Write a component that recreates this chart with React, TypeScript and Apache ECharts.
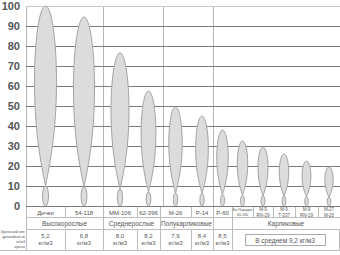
import React, { useEffect, useRef } from "react";
import * as echarts from "echarts";

// ---- data ----
const categories = [
  "Дички", "54-118", "ММ-106", "62-396", "М-26", "Р-14", "Р-60",
  "Бл.Парадиз\n60-160", "М-9\nRN-29", "М-9\nТ-337", "М-9\nRN-19", "М-27\nМ-20",
];
const crownHeights = [100, 94.5, 76.5, 57.5, 49.5, 45, 38, 32.5, 29.5, 26, 22.5, 19.5];
const yieldValues = ["5,2", "6,8", "8,0", "8,2", "7,9", "8,4", "8,5"];
const yieldUnit = "кг/м3";
const groupNames = ["Высокорослые", "Среднерослые", "Полукарликовые", "", "Карликовые"];
const groupSpans = [[0, 2], [2, 4], [4, 6], [6, 7], [7, 12]];
const dwarfAverage = "В среднем 9,2 кг/м3";
const rowTitle = ["Удельный вес", "урожайности", "кг/м3", "кроны"];
const yMin = 0, yMax = 100, yStep = 10;

// ---- layout (pixels) ----
const W = 340, H = 255;
const colEdges = [26, 65, 103, 137, 160, 191, 213, 232, 253, 273, 295, 318, 340];
const plotTop = 6, plotBottom = 206;
const groupLinesX = [26, 103, 163, 213];
const rowY = [207, 217, 229, 250];
const FONT = "'Liberation Sans', Arial, sans-serif";
const LINE = "#bdbdbd";
const TXT = "#555";

const App: React.FC = () => {
  const ref = useRef<HTMLDivElement>(null);
  useEffect(() => {
    if (!ref.current) return;
    const chart = echarts.init(ref.current, null, { renderer: "svg" });
    const left = colEdges[0];
    const centers = colEdges.slice(0, -1).map((e, i) => (e + colEdges[i + 1]) / 2 - left);

    const graphics: any[] = [];
    const vline = (x: number, y1: number, y2: number, color = LINE) =>
      graphics.push({ type: "line", shape: { x1: x, y1, x2: x, y2 }, style: { stroke: color, lineWidth: 1 }, silent: true });
    const hline = (y: number, x1: number, x2: number, color = LINE) =>
      graphics.push({ type: "line", shape: { x1, y1: y, x2, y2: y }, style: { stroke: color, lineWidth: 1 }, silent: true });
    const text = (t: string, x: number, y: number, size: number, align = "center", extra: any = {}) =>
      graphics.push({
        type: "text", x, y, silent: true,
        style: { text: t, fill: TXT, fontSize: size, fontFamily: FONT, textAlign: align, textVerticalAlign: "middle", lineHeight: size + 1, ...extra },
      });

    // plot group separators
    groupLinesX.forEach((x) => vline(x + 0.5, plotTop, plotBottom, "#b5b5b5"));

    // table rows
    hline(rowY[1] + 0.5, 26, W);
    hline(rowY[2] + 0.5, 26, W);
    hline(rowY[3] + 0.5, 0, W);
    // name row
    colEdges.forEach((x) => vline(x + 0.5, rowY[0], rowY[1]));
    categories.forEach((c, i) => {
      const cx = (colEdges[i] + colEdges[i + 1]) / 2;
      const multi = c.includes("\n");
      const size = c.length > 12 ? 3.5 : multi ? 4.5 : 6;
      text(c, cx, (rowY[0] + rowY[1]) / 2 + 0.5, size);
    });
    // group row
    groupSpans.forEach(([a, b], i) => {
      vline(colEdges[a] + 0.5, rowY[1], rowY[2]);
      vline(colEdges[b] + 0.5, rowY[1], rowY[2]);
      if (groupNames[i]) text(groupNames[i], (colEdges[a] + colEdges[b]) / 2, (rowY[1] + rowY[2]) / 2 + 0.5, 6.5);
    });
    // values row
    yieldValues.forEach((v, i) => {
      vline(colEdges[i] + 0.5, rowY[2], rowY[3]);
      text(v + "\n" + yieldUnit, (colEdges[i] + colEdges[i + 1]) / 2, (rowY[2] + rowY[3]) / 2, 6, "center", { lineHeight: 7 });
    });
    vline(colEdges[yieldValues.length] + 0.5, rowY[2], rowY[3]);
    vline(W - 0.5, rowY[2], rowY[3]);
    graphics.push({
      type: "rect", silent: true,
      shape: { x: 245.5, y: 234.5, width: 80, height: 11 },
      style: { fill: "#fff", stroke: "#aaa", lineWidth: 1 },
    });
    text(dwarfAverage, 285, 240.5, 6.5);
    // row title
    rowTitle.forEach((t, i) => text(t, 25, 232 + i * 5, 3.8, "right"));

    const neckOf = (v: number) => 3 + v * 0.07;
    const widthOf = (v: number) => 5 + v * 0.17;

    chart.setOption({
      animation: false,
      grid: {
        left: colEdges[0], right: 0, top: plotTop, bottom: H - plotBottom,
        containLabel: false, outerBoundsMode: "none",
      },
      xAxis: { type: "value", min: 0, max: W - left, show: false, splitLine: { show: false } },
      yAxis: {
        type: "value", min: yMin, max: yMax, interval: yStep,
        axisLine: { show: false }, axisTick: { show: false },
        axisLabel: { color: "#555", fontSize: 11, fontWeight: "bold", fontFamily: FONT, margin: 6 },
        splitLine: {
          lineStyle: {
            color: ["#7a7a7a", "#7a7a7a", "#7a7a7a", "#7a7a7a", "#7a7a7a", "#7a7a7a", "#7a7a7a", "#7a7a7a", "#7a7a7a", "#7a7a7a", "#c8c8c8"],
            width: 1,
          },
        },
      },
      graphic: graphics,
      series: [
        {
          type: "custom",
          data: crownHeights.map((v, i) => [centers[i], v]),
          renderItem: (params: any, api: any) => {
            const x = api.value(0);
            const v = api.value(1);
            const top = api.coord([x, v]);
            const neck = api.coord([x, neckOf(v)]);
            const base = api.coord([x, 0]);
            const cx = top[0];
            const yt = top[1], yn = neck[1], y0 = base[1];
            const hw = widthOf(v) / 2;
            const ym = yt + (yn - yt) * 0.42;
            const k = 0.552;
            const body = [
              `M${cx},${yt}`,
              `C${cx + hw * k},${yt} ${cx + hw},${ym - (ym - yt) * k} ${cx + hw},${ym}`,
              `C${cx + hw},${ym + (yn - ym) * 0.55} ${cx + hw * 0.2},${yn - (yn - ym) * 0.12} ${cx},${yn}`,
              `C${cx - hw * 0.2},${yn - (yn - ym) * 0.12} ${cx - hw},${ym + (yn - ym) * 0.55} ${cx - hw},${ym}`,
              `C${cx - hw},${ym - (ym - yt) * k} ${cx - hw * k},${yt} ${cx},${yt}`,
              "Z",
            ].join(" ");
            const tw = Math.min(3, 1.4 + v * 0.016) / 0.75;
            const trunk = [
              `M${cx},${yn}`,
              `C${cx + tw},${yn} ${cx + tw},${y0} ${cx},${y0}`,
              `C${cx - tw},${y0} ${cx - tw},${yn} ${cx},${yn}`,
              "Z",
            ].join(" ");
            const style = { fill: "#dcdcdc", stroke: "#a3a3a3", lineWidth: 1 };
            return {
              type: "group",
              children: [
                { type: "path", shape: { pathData: trunk }, style },
                { type: "path", shape: { pathData: body }, style },
              ],
            };
          },
        },
      ],
    });
    return () => chart.dispose();
  }, []);
  return <div ref={ref} style={{ position: "fixed", left: 0, top: 0, width: W, height: H, background: "#fff" }} />;
};

export default App;
